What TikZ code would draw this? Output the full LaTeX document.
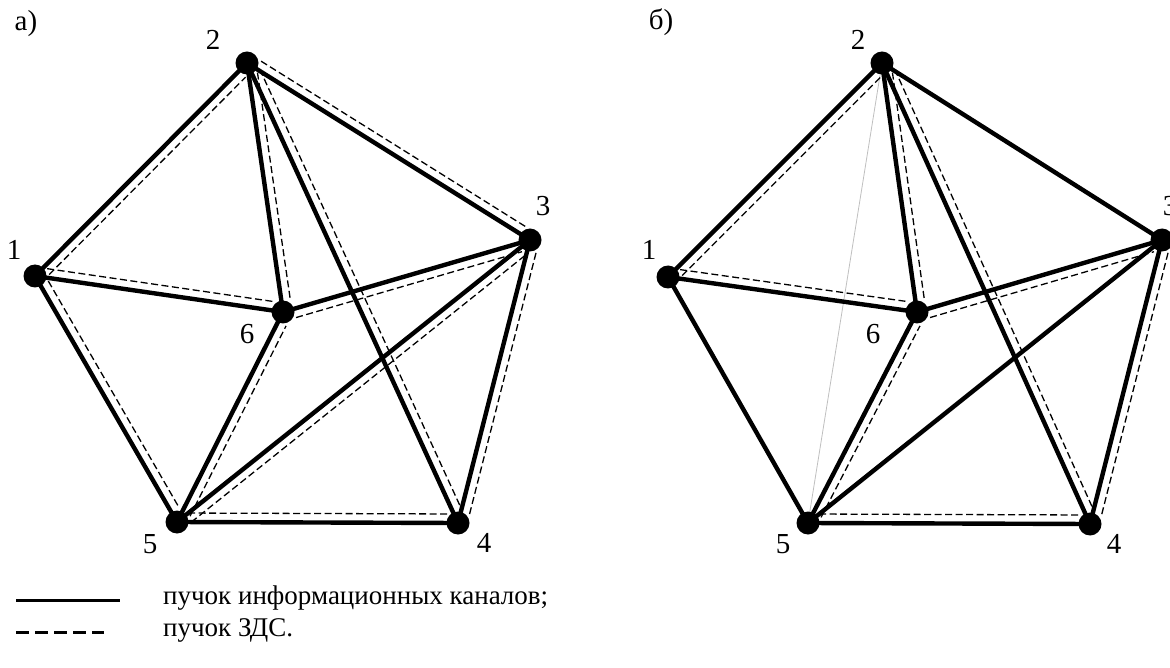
\documentclass[tikz,border=0pt]{standalone}
\usepackage{fontspec}
\setmainfont{Liberation Serif}
\usetikzlibrary{calc,backgrounds}
\tikzset{
  vtx/.style={circle,fill=black,inner sep=0pt,minimum size=23pt},
  lbl/.style={font=\fontsize{29}{34}\selectfont,inner sep=0pt},
  chan/.style={line width=4.4pt},
  zds/.style={line width=1.3pt,dash pattern=on 7pt off 3.5pt,shorten <=11pt,shorten >=11pt},
  faint/.style={line width=0.8pt,black!25},
  legtext/.style={font=\fontsize{27}{32}\selectfont,anchor=west,inner sep=0pt},
}
\newcommand\dzL[2]{\draw[zds] ($(#1)!9pt!90:(#2)$) -- ($(#2)!9pt!-90:(#1)$);}
\newcommand\dzR[2]{\draw[zds] ($(#1)!9pt!-90:(#2)$) -- ($(#2)!9pt!90:(#1)$);}
\begin{document}
\begin{tikzpicture}[x=1pt,y=-1pt]
\useasboundingbox (0,0) rectangle (1170,668);
% ---- left graph
\node[vtx] (a1) at (35,276) {};
\node[vtx] (a2) at (247,63) {};
\node[vtx] (a3) at (530,240) {};
\node[vtx] (a4) at (458,523) {};
\node[vtx] (a5) at (177,522) {};
\node[vtx] (a6) at (283,312) {};
\node[lbl] (ta) at (26,24) {а)};
\node[lbl] (la1) at (14,250) {1};
\node[lbl] (la2) at (213,40) {2};
\node[lbl] (la3) at (543,206) {3};
\node[lbl] (la4) at (484,543) {4};
\node[lbl] (la5) at (150,544) {5};
\node[lbl] (la6) at (247,334) {6};
% ---- right graph
\node[vtx] (b1) at (668,277) {};
\node[vtx] (b2) at (882,63) {};
\node[vtx] (b3) at (1162,240) {};
\node[vtx] (b4) at (1090,524) {};
\node[vtx] (b5) at (808,523) {};
\node[vtx] (b6) at (917,312) {};
\node[lbl] (tb) at (661,22) {б)};
\node[lbl] (lb1) at (649,250) {1};
\node[lbl] (lb2) at (858,40) {2};
\node[lbl] (lb3) at (1170,206) {3};
\node[lbl] (lb4) at (1114,544) {4};
\node[lbl] (lb5) at (783,544) {5};
\node[lbl] (lb6) at (873,334) {6};
\begin{pgfonlayer}{background}
% left: channels
\foreach \u/\v in {a1/a2,a2/a3,a1/a6,a1/a5,a2/a6,a2/a4,a6/a3,a5/a3,a3/a4,a5/a6,a5/a4}
  \draw[chan] (\u.center) -- (\v.center);
% left: ZDS
\dzR{a1}{a2}
\dzL{a2}{a3}
\dzL{a1}{a6}
\dzL{a1}{a5}
\dzL{a2}{a6}
\dzL{a2}{a4}
\dzR{a6}{a3}
\dzR{a5}{a3}
\dzL{a3}{a4}
\dzR{a5}{a6}
\dzL{a5}{a4}
% right: channels
\draw[faint] (b2.center) -- (b5.center);
\foreach \u/\v in {b1/b2,b2/b3,b1/b6,b1/b5,b2/b6,b2/b4,b6/b3,b5/b3,b3/b4,b5/b6,b5/b4}
  \draw[chan] (\u.center) -- (\v.center);
% right: ZDS
\dzR{b1}{b2}
\dzL{b1}{b6}
\dzL{b2}{b6}
\dzL{b2}{b4}
\dzR{b6}{b3}
\dzL{b3}{b4}
\dzR{b5}{b6}
\dzL{b5}{b4}
\end{pgfonlayer}
% ---- legend
\coordinate (ls1) at (16,600);
\coordinate (ls2) at (120,600);
\coordinate (ld1) at (16,632);
\coordinate (ld2) at (104,632);
\draw[line width=3pt] (ls1) -- (ls2);
\draw[line width=3pt,dash pattern=on 13pt off 6pt] (ld1) -- (ld2);
\node[legtext] (lt1) at (163,598) {пучок информационных каналов;};
\node[legtext] (lt2) at (163,630) {пучок ЗДС.};
\end{tikzpicture}
\end{document}
